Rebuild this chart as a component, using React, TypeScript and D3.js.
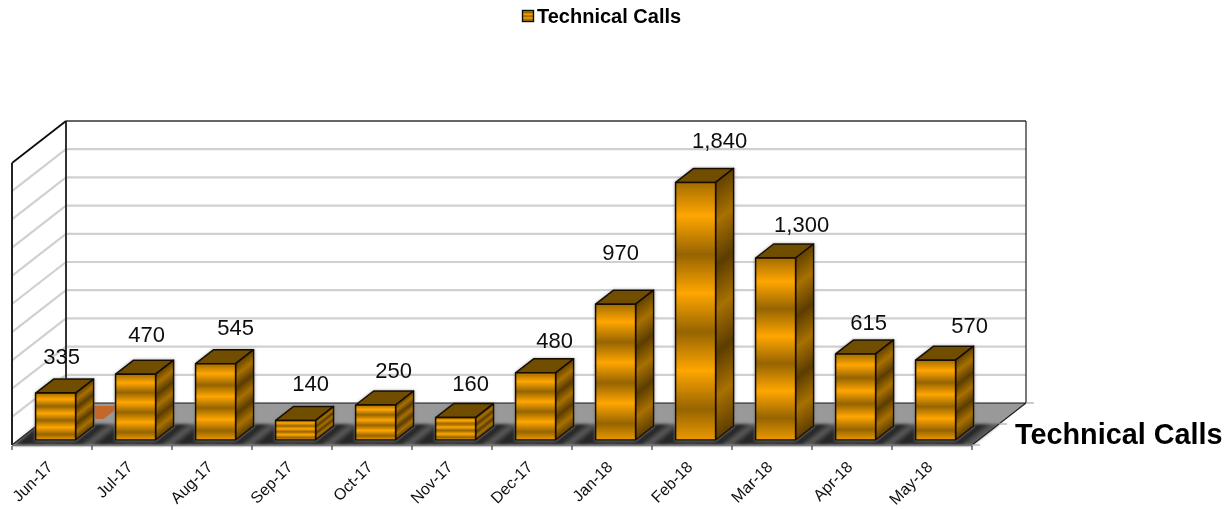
import React from "react";
import * as d3 from "d3";

const categories = ["Jun-17","Jul-17","Aug-17","Sep-17","Oct-17","Nov-17","Dec-17","Jan-18","Feb-18","Mar-18","Apr-18","May-18"];
const calls = [335,470,545,140,250,160,480,970,1840,1300,615,570];
const labelNudgeX = [6,11,20,15,18,15,19,5,24,26,13,34];
const labelGapY = [15,18,15,15,13,13,11,30,20,12,10,13];
const seriesName = "Technical Calls";
const gridTicks = d3.range(0, 2001, 200);

const W = 1231, H = 509;
const front = { x0: 12, x1: 972, y: 445 };
const depth = { x: 54, y: -42 };
const barDepth = { x: 18, y: -14 };
const baseY = 440;
const x = d3.scaleBand<string>().domain(categories).range([front.x0, front.x1]);
const yBack = d3.scaleLinear().domain([0, 2000]).range([403, 121]);
const hScale = d3.scaleLinear().domain([0, 2000]).range([0, 280]);
const fmt = d3.format(",");

const BAR_W = 40, BAR_OFF = 23.6;
const font = '"Liberation Sans", Arial, sans-serif';
const poly = (p: number[][]) => p.map((q) => q.join(",")).join(" ");

export default function App() {
  const back0 = front.x0 + depth.x, back1 = front.x1 + depth.x;
  const midY = front.y + depth.y / 2;
  const first = x(categories[0])!;
  return (
    <svg width={W} height={H} viewBox={`0 0 ${W} ${H}`} style={{ position: "absolute", left: 0, top: 0, background: "#fff" }}>
      <defs>
        <linearGradient id="fr" x1="0" y1="0.13" x2="0" y2="0.43" spreadMethod="repeat">
          <stop offset="0" stopColor="#ffa600" />
          <stop offset="0.5" stopColor="#966400" />
          <stop offset="1" stopColor="#ffa600" />
        </linearGradient>
        <linearGradient id="leg" x1="0" y1="0" x2="0" y2="0.34" spreadMethod="repeat">
          <stop offset="0" stopColor="#ffa600" />
          <stop offset="0.5" stopColor="#8f6000" />
          <stop offset="1" stopColor="#ffa600" />
        </linearGradient>
        <linearGradient id="floorDark" gradientUnits="userSpaceOnUse" x1={front.x0} y1="0" x2={front.x0 + x.bandwidth()} y2="0" spreadMethod="repeat" gradientTransform="skewX(-52) translate(-275,0)">
          <stop offset="0" stopColor="#2e2e2e" />
          <stop offset="0.38" stopColor="#262626" />
          <stop offset="0.5" stopColor="#5c5c5c" />
          <stop offset="0.62" stopColor="#262626" />
          <stop offset="1" stopColor="#2e2e2e" />
        </linearGradient>
        <filter id="soft" x="-5%" y="-20%" width="110%" height="140%">
          <feGaussianBlur stdDeviation="1.5" />
        </filter>
        <filter id="halo" x="-30%" y="-30%" width="160%" height="160%">
          <feDropShadow dx="0" dy="0.5" stdDeviation="1.4" floodColor="#777" floodOpacity="0.9" />
        </filter>
        <filter id="aa" x="0" y="0" width="100%" height="100%" filterUnits="userSpaceOnUse">
          <feGaussianBlur stdDeviation="0.4" />
        </filter>
        {calls.map((v, i) => {
          const p = hScale(v) * 0.34;
          const rx = x(categories[i])! + BAR_OFF + BAR_W;
          const ty = baseY - hScale(v);
          return (
            <linearGradient key={i} id={`sd${i}`} gradientUnits="userSpaceOnUse" spreadMethod="repeat"
              x1={rx} y1={ty + p * 0.45} x2={rx + 0.484 * p} y2={ty + p * 0.45 + 0.623 * p}>
              <stop offset="0" stopColor="#a87000" />
              <stop offset="0.5" stopColor="#5c3d00" />
              <stop offset="1" stopColor="#a87000" />
            </linearGradient>
          );
        })}
      </defs>

      <g filter="url(#aa)">
        {/* floor */}
        <polygon points={poly([[front.x0, front.y], [front.x1, front.y], [back1, yBack(0)], [back0, yBack(0)]])} fill="#999" />
        <polygon filter="url(#soft)" points={poly([[front.x0 + 2, front.y], [front.x1, front.y], [front.x1 + depth.x / 2, midY], [front.x0 + depth.x / 2, midY]])} fill="url(#floorDark)" />
        <polygon points={poly([[first + BAR_OFF + BAR_W + 17, yBack(0) + 3], [first + BAR_OFF + BAR_W + 41, yBack(0) + 3], [first + BAR_OFF + BAR_W + 41, yBack(0) + 6], [first + BAR_OFF + BAR_W + 28, yBack(0) + 16], [first + BAR_OFF + BAR_W + 20, yBack(0) + 16]])} fill="#c4682a" />

        {/* grid */}
        {gridTicks.filter((t) => t > 0 && t < 2000).map((t) => (
          <g key={t} stroke="#d0d0d0" strokeWidth="2.2" fill="none">
            <line x1={back0} x2={back1} y1={yBack(t)} y2={yBack(t)} />
            <line x1={back0} x2={front.x0} y1={yBack(t)} y2={yBack(t) - depth.y} />
          </g>
        ))}

        {/* wall frame */}
        <line x1={back0} x2={back1} y1={yBack(2000)} y2={yBack(2000)} stroke="#666" strokeWidth="1.8" />
        <line x1={back0} x2={back1} y1={yBack(0)} y2={yBack(0)} stroke="#111" strokeWidth="1.2" />
        <line x1={back0} x2={back0} y1={yBack(2000)} y2={yBack(0)} stroke="#333" strokeWidth="2" />
        <line x1={back1} x2={back1} y1={yBack(2000)} y2={yBack(0)} stroke="#222" strokeWidth="1.2" />
        <line x1={front.x0} x2={front.x0} y1={yBack(2000) - depth.y} y2={front.y} stroke="#222" strokeWidth="2" />
        <line x1={front.x0} x2={back0} y1={yBack(2000) - depth.y} y2={yBack(2000)} stroke="#111" strokeWidth="1.8" />
        <line x1={front.x0} x2={back0} y1={front.y} y2={yBack(0)} stroke="#222" strokeWidth="1.2" />
        <line x1={front.x0} x2={front.x1} y1={front.y + 0.5} y2={front.y + 0.5} stroke="#777" strokeWidth="1.6" />
        <line x1={front.x1} x2={back1} y1={front.y} y2={yBack(0)} stroke="#222" strokeWidth="1.2" />

        {/* ticks */}
        {categories.map((c) => (
          <line key={c} x1={x(c)!} x2={x(c)!} y1={front.y + 1} y2={front.y + 5} stroke="#111" />
        ))}
        <line x1={front.x1} x2={front.x1} y1={front.y + 1} y2={front.y + 5} stroke="#111" />
        {[0, 0.5, 1].map((f) => (
          <line key={f} x1={front.x1 + depth.x * f} x2={front.x1 + depth.x * f + 8} y1={front.y + depth.y * f} y2={front.y + depth.y * f} stroke="#aaa" strokeWidth="1.2" />
        ))}

        {/* bars */}
        {calls.map((v, i) => {
          const bx = x(categories[i])! + BAR_OFF;
          const h = hScale(v);
          const ty = baseY - h;
          const r = bx + BAR_W;
          return (
            <g key={i} stroke="#140d00" strokeWidth="1.5" strokeLinejoin="round" filter="url(#halo)">
              <polygon points={poly([[bx, ty], [bx + barDepth.x, ty + barDepth.y], [r + barDepth.x, ty + barDepth.y], [r, ty]])} fill="#714d00" />
              <polygon points={poly([[r, ty], [r + barDepth.x, ty + barDepth.y], [r + barDepth.x, baseY + barDepth.y], [r, baseY]])} fill={`url(#sd${i})`} />
              <rect x={bx} y={ty} width={BAR_W} height={h} fill="url(#fr)" />
            </g>
          );
        })}

        {/* data labels */}
        {calls.map((v, i) => (
          <text key={i} x={x(categories[i])! + BAR_OFF + BAR_W / 2 + labelNudgeX[i]} y={baseY - hScale(v) + barDepth.y - labelGapY[i]}
            textAnchor="middle" fontFamily={font} fontSize="22" fill="#111">{fmt(v)}</text>
        ))}

        {/* category labels */}
        {categories.map((c) => {
          const cx = x(c)! + BAR_OFF + BAR_W / 2 - 2;
          return (
            <text key={c} transform={`translate(${cx},${468}) rotate(-45)`} textAnchor="end" fontFamily={font} fontSize="16" fill="#111">{c}</text>
          );
        })}

        {/* axis title */}
        <text x="1015" y="444" fontFamily={font} fontSize="28.8" fontWeight="bold" fill="#000">{seriesName}</text>

        {/* legend */}
        <rect x="522.5" y="10.5" width="11" height="11" fill="url(#leg)" stroke="#111" strokeWidth="1.4" />
        <text x="537" y="22.5" fontFamily={font} fontSize="20" fontWeight="bold" fill="#000">{seriesName}</text>
      </g>
    </svg>
  );
}
